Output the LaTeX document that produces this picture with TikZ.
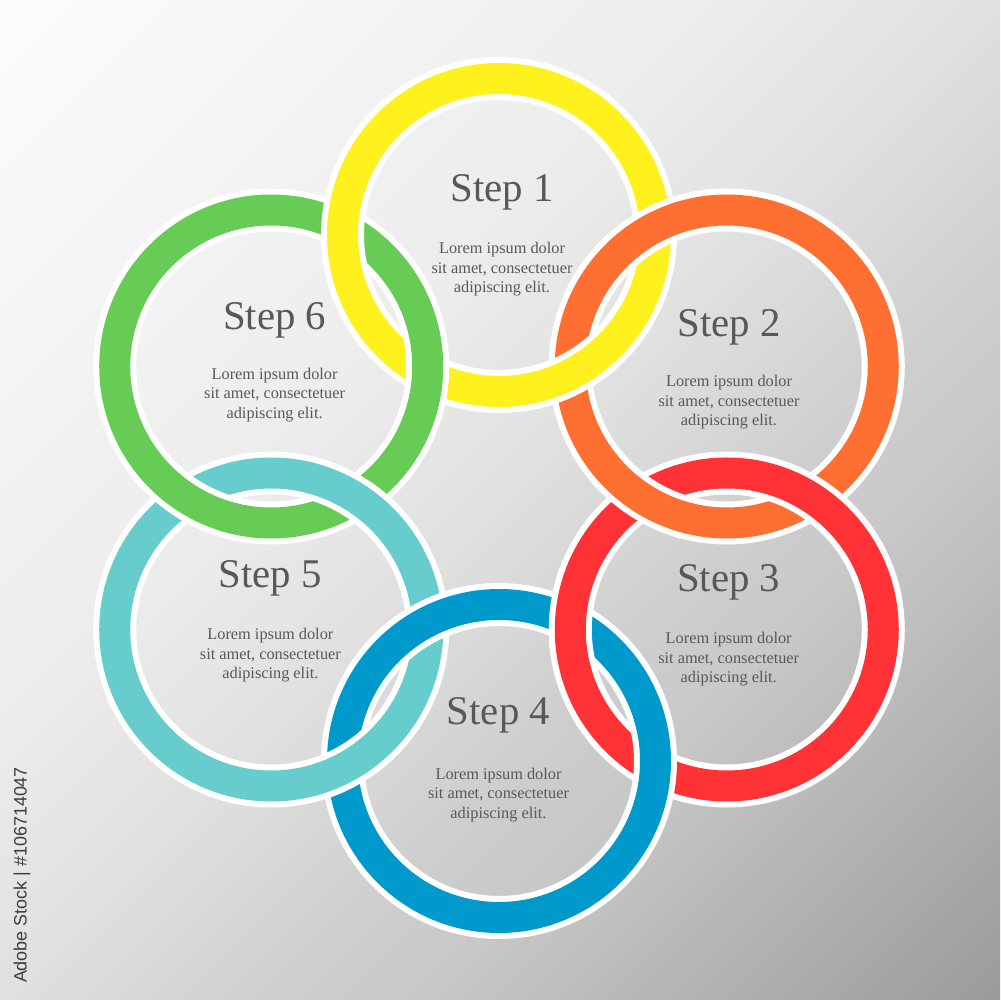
\documentclass[tikz,border=0pt]{standalone}
\usepackage{fontspec}
\setmainfont{Liberation Serif}
\newfontfamily\stockfont{Liberation Sans}
\definecolor{bg0}{RGB}{252,252,252}
\definecolor{bg1}{RGB}{240,240,240}
\definecolor{bg2}{RGB}{236,236,236}
\definecolor{bgm}{RGB}{224,224,224}
\definecolor{bg3}{RGB}{207,207,207}
\definecolor{bg4}{RGB}{200,200,200}
\definecolor{bg5}{RGB}{155,155,155}
\definecolor{cY}{HTML}{FFF11E}
\definecolor{cO}{HTML}{FF6F32}
\definecolor{cR}{HTML}{FF3236}
\definecolor{cB}{HTML}{0099CC}
\definecolor{cT}{HTML}{66CCCC}
\definecolor{cG}{HTML}{66CC55}
\definecolor{txtgray}{HTML}{585858}
\definecolor{stockgray}{HTML}{3C3C3C}
\pgfdeclarehorizontalshading{bgshade}{100bp}{color(0bp)=(bg0); color(14.64bp)=(bg0); color(34.44bp)=(bg1); color(40.79bp)=(bg2); color(50bp)=(bgm); color(59.19bp)=(bg3); color(64.84bp)=(bg4); color(85.36bp)=(bg5); color(100bp)=(bg5)}
\tikzset{
  ringwhite/.style={draw=white, line width=4.3mm},
  ringcolor/.style={line width=3.1mm},
  steplabel/.style={anchor=base, text=txtgray, font=\fontsize{11.6}{13}\selectfont, inner sep=0pt},
  lorlabel/.style={anchor=base, text=txtgray, font=\fontsize{4.64}{5.52}\selectfont, inner sep=0pt},
}
\newcommand\loremtext{\begin{tabular}[t]{@{}c@{}}Lorem ipsum dolor\\sit amet, consectetuer\\adipiscing elit.\end{tabular}}
\newcommand\ringarc[3]{%
  \draw[ringwhite] ([shift={({#3-18}:156.5)}]r#1) arc[start angle={#3-18}, end angle={#3+18}, radius=156.5];
  \draw[ringcolor, draw=#2] ([shift={({#3-19}:156.5)}]r#1) arc[start angle={#3-19}, end angle={#3+19}, radius=156.5];
}
\begin{document}
\begin{tikzpicture}[x=0.1mm,y=0.1mm]
\useasboundingbox (0,0) rectangle (1000,1000);
\shade[shading=bgshade, shading angle=-45] (0,0) rectangle (1000,1000);
% rings
\foreach \k/\col in {1/cY,2/cO,3/cR,4/cB,5/cT,6/cG} {
  \pgfmathsetmacro\th{90-60*(\k-1)}
  \coordinate (r\k) at ({499+263*cos(\th)},{502+263*sin(\th)});
  \draw[ringwhite] (r\k) circle (156.5);
  \draw[ringcolor, draw=\col] (r\k) circle (156.5);
}
% interlocking: restore over-crossings
\ringarc{1}{cY}{-62.8}
\ringarc{2}{cO}{-122.8}
\ringarc{3}{cR}{-182.8}
\ringarc{4}{cB}{-242.8}
\ringarc{5}{cT}{-302.8}
\ringarc{1}{cY}{177.2}
% labels
\node[steplabel] (s1) at (502,798.3) {Step 1};
\node[lorlabel] (t1) at (502,746) {\loremtext};
\node[steplabel] (s2) at (729,663.3) {Step 2};
\node[lorlabel] (t2) at (729,613.3) {\loremtext};
\node[steplabel] (s3) at (728.7,408.3) {Step 3};
\node[lorlabel] (t3) at (728.7,356) {\loremtext};
\node[steplabel] (s4) at (498.5,275) {Step 4};
\node[lorlabel] (t4) at (498.5,220.7) {\loremtext};
\node[steplabel] (s5) at (270.4,412.7) {Step 5};
\node[lorlabel] (t5) at (270.4,360) {\loremtext};
\node[steplabel] (s6) at (274.6,670.7) {Step 6};
\node[lorlabel] (t6) at (274.6,620.7) {\loremtext};
\node[rotate=90, text=stockgray, font=\stockfont\fontsize{5.1}{6}\selectfont, inner sep=0pt] (stock) at (22,125) {Adobe Stock | \#106714047};
\end{tikzpicture}
\end{document}
